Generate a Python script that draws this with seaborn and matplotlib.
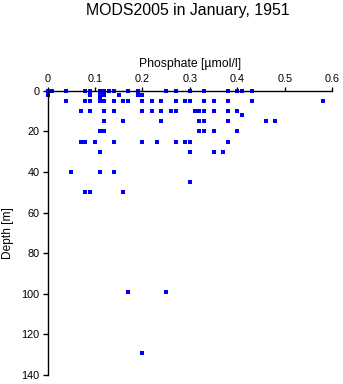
import matplotlib
matplotlib.use("Agg")
import matplotlib.pyplot as plt
import seaborn as sns
import pandas as pd

# Phosphate profile samples: depth [m] and phosphate [umol/l]
depth = (
    [0] * 19
    + [2] * 7
    + [3]
    + [5] * 19
    + [10] * 15
    + [12]
    + [15] * 8
    + [20] * 6
    + [25] * 10
    + [30] * 4
    + [40] * 3
    + [45]
    + [50] * 3
    + [99] * 2
    + [129]
)
phosphate = (
    [0.00, 0.01, 0.04, 0.08, 0.09, 0.11, 0.12, 0.13, 0.14, 0.17, 0.19,
     0.25, 0.27, 0.30, 0.33, 0.38, 0.40, 0.41, 0.43]
    + [0.00, 0.09, 0.11, 0.12, 0.15, 0.19, 0.20]
    + [0.11]
    + [0.04, 0.08, 0.09, 0.11, 0.12, 0.14, 0.16, 0.17, 0.20, 0.22, 0.24,
       0.27, 0.29, 0.30, 0.33, 0.35, 0.38, 0.43, 0.58]
    + [0.07, 0.09, 0.12, 0.14, 0.20, 0.22, 0.24, 0.26, 0.27, 0.31, 0.32,
       0.33, 0.35, 0.38, 0.40]
    + [0.41]
    + [0.12, 0.16, 0.24, 0.32, 0.33, 0.38, 0.46, 0.48]
    + [0.11, 0.12, 0.32, 0.33, 0.35, 0.40]
    + [0.07, 0.08, 0.10, 0.14, 0.20, 0.23, 0.27, 0.29, 0.30, 0.38]
    + [0.11, 0.30, 0.35, 0.37]
    + [0.05, 0.11, 0.14]
    + [0.30]
    + [0.08, 0.09, 0.16]
    + [0.17, 0.25]
    + [0.20]
)

x_ticks = [0, 0.1, 0.2, 0.3, 0.4, 0.5, 0.6]
x_labels = ["0", "0.1", "0.2", "0.3", "0.4", "0.5", "0.6"]
y_ticks = [0, 20, 40, 60, 80, 100, 120, 140]

df = pd.DataFrame({"phosphate": phosphate, "depth": depth})

sns.set_style("white")
plt.rcParams["font.family"] = ["Liberation Sans", "DejaVu Sans"]
plt.rcParams["text.color"] = "black"
plt.rcParams["axes.labelcolor"] = "black"

fig = plt.figure(figsize=(3.43, 3.84), dpi=100)
ax = fig.add_axes([0.1385, 0.0234, 0.830, 0.7401])

sns.scatterplot(data=df, x="phosphate", y="depth", ax=ax, marker="s",
                s=5, color="#0000ff", linewidth=0, clip_on=False)

ax.set_xlim(0, 0.6)
ax.set_ylim(140, 0)
ax.xaxis.tick_top()
ax.xaxis.set_label_position("top")
ax.set_xticks(x_ticks)
ax.set_xticklabels(x_labels)
ax.set_yticks(y_ticks)
ax.set_yticklabels([str(v) for v in y_ticks])

for side in ("right", "bottom"):
    ax.spines[side].set_visible(False)
for side in ("top", "left"):
    ax.spines[side].set_visible(True)
    ax.spines[side].set_color("black")
    ax.spines[side].set_linewidth(1.0)

ax.tick_params(axis="x", direction="out", length=3.2, width=1.0, pad=1.5,
               labelsize=7.8, colors="black", top=True, bottom=False)
ax.tick_params(axis="y", direction="out", length=3.8, width=1.0, pad=2,
               labelsize=7.8, colors="black", left=True)

ax.set_xlabel("Phosphate [\u00b5mol/l]", fontsize=8.8, labelpad=5)
ax.set_ylabel("Depth [m]", fontsize=8.6, labelpad=5)

fig.text(0.548, 0.992, "MODS2005 in January, 1951", ha="center", va="top",
         fontsize=11.4)

fig.savefig("out.png", dpi=100)
